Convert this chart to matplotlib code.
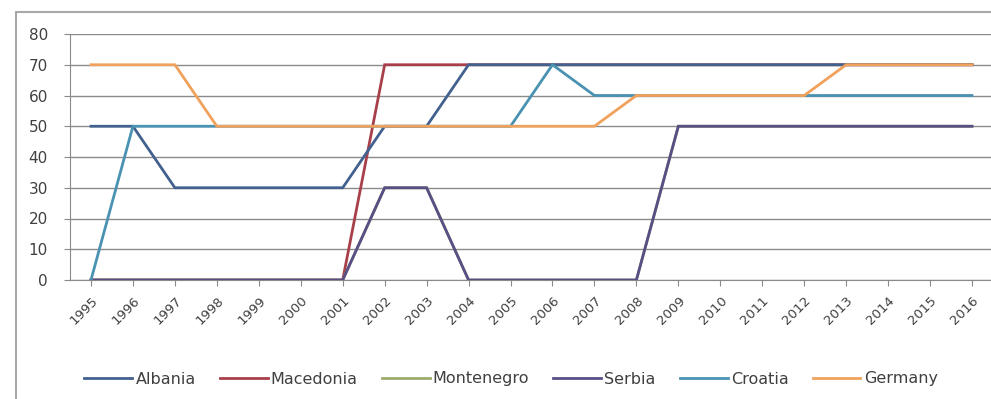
import numpy as np
import matplotlib.pyplot as plt
import matplotlib.transforms as mtransforms
from matplotlib.patches import Rectangle

years = [str(y) for y in range(1995, 2017)]

albania = [50, 50, 30, 30, 30, 30, 30, 50, 50, 70, 70, 70, 70, 70, 70, 70, 70, 70, 70, 70, 70, 70]
macedonia = [0, 0, 0, 0, 0, 0, 0, 70, 70, 70, 70, 70, 70, 70, 70, 70, 70, 70, 70, 70, 70, 70]
montenegro = [0, 0, 0, 0, 0, 0, 0, 30, 30, 0, 0, 0, 0, 0, 50, 50, 50, 50, 50, 50, 50, 50]
serbia = [0, 0, 0, 0, 0, 0, 0, 30, 30, 0, 0, 0, 0, 0, 50, 50, 50, 50, 50, 50, 50, 50]
croatia = [0, 50, 50, 50, 50, 50, 50, 50, 50, 50, 50, 70, 60, 60, 60, 60, 60, 60, 60, 60, 60, 60]
germany = [70, 70, 70, 50, 50, 50, 50, 50, 50, 50, 50, 50, 50, 60, 60, 60, 60, 60, 70, 70, 70, 70]

# name, values, colour, draw order
series = [
    ('Albania', albania, '#42618f', 4),
    ('Macedonia', macedonia, '#a8404c', 2),
    ('Montenegro', montenegro, '#9aad6c', 3),
    ('Serbia', serbia, '#5a4e86', 5),
    ('Croatia', croatia, '#4a92b2', 6),
    ('Germany', germany, '#f0a25c', 7),
]

fig = plt.figure(figsize=(9.91, 3.99), dpi=100)
fig.patches.append(Rectangle((16 / 991, -0.1), 1.2, 1 - 12 / 399 + 0.1,
                             transform=fig.transFigure, fill=False,
                             edgecolor='#a8a8a8', linewidth=1.5))

ax = fig.add_axes([70 / 991, 119 / 399, 923 / 991, 246 / 399])
x = np.arange(len(years))
for name, vals, color, z in series:
    ax.plot(x, vals, color=color, linewidth=2.0, label=name, zorder=z,
            solid_joinstyle='miter')

ax.set_xlim(-0.5, len(years) - 0.5)
ax.set_ylim(0, 80)
ax.set_yticks(range(0, 81, 10))
ax.yaxis.grid(True, color='#8a8a8a', linewidth=1.0)
ax.set_axisbelow(True)
ax.set_xticks(x)
ax.set_xticklabels(years, rotation=45, ha='right', va='top',
                   rotation_mode='anchor', fontsize=9.5, color='#404040')
shift = mtransforms.ScaledTranslation(8 / 100, 0, fig.dpi_scale_trans)
for lbl in ax.get_xticklabels():
    lbl.set_transform(lbl.get_transform() + shift)
ax.tick_params(axis='y', labelsize=11, labelcolor='#404040', length=4,
               color='#8a8a8a', pad=12)
ax.tick_params(axis='x', length=4, color='#8a8a8a', pad=6)
for side in ['top', 'right']:
    ax.spines[side].set_visible(False)
ax.spines['left'].set_color('#8a8a8a')
ax.spines['bottom'].set_color('#8a8a8a')

handles, labels = ax.get_legend_handles_labels()
fig.legend(handles, labels, loc='center', bbox_to_anchor=(511 / 991, 1 - 379 / 399),
           ncol=6, frameon=False, fontsize=11.5, handlelength=3.0,
           handletextpad=0.2, columnspacing=1.5, labelcolor='#404040')

fig.savefig('out.png', dpi=100)
